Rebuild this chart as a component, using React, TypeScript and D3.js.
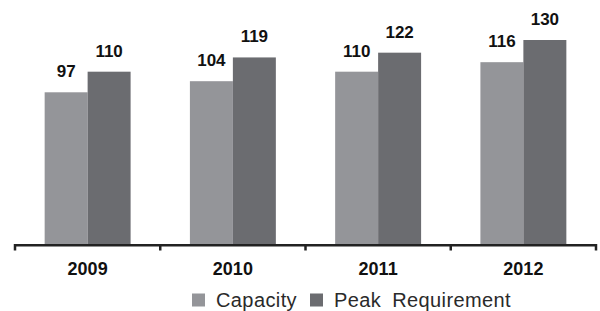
import React, { useRef, useEffect } from 'react';
import * as d3 from 'd3';

const years = ['2009', '2010', '2011', '2012'];
const seriesNames = ['Capacity', 'Peak Requirement'];
const capacity = [97, 104, 110, 116];
const peakRequirement = [110, 119, 122, 130];
const colors = ['#949599', '#6b6c70'];

const width = 600;
const height = 311;

const App: React.FC = () => {
  const svgRef = useRef<SVGSVGElement>(null);

  useEffect(() => {
    if (!svgRef.current) return;
    const svg = d3.select(svgRef.current);
    svg.selectAll('*').remove();

    const font = '"Liberation Sans", Arial, Helvetica, sans-serif';
    const baseY = 246;

    const x0 = d3.scaleBand<string>().domain(years).range([15, 596]).padding(0);
    const x1 = d3.scaleBand<string>()
      .domain(seriesNames)
      .range([0, x0.bandwidth()])
      .paddingInner(0)
      .paddingOuter(0.69);
    const y = d3.scaleLinear().domain([0, 130]).range([baseY, 40]);

    const values = [capacity, peakRequirement];

    // bars
    years.forEach((yr, i) => {
      const g = svg.append('g').attr('transform', `translate(${x0(yr)},0)`);
      seriesNames.forEach((s, j) => {
        const v = values[j][i];
        g.append('rect')
          .attr('x', x1(s)!)
          .attr('y', y(v))
          .attr('width', x1.bandwidth())
          .attr('height', baseY - y(v))
          .attr('fill', colors[j]);
        g.append('text')
          .attr('x', x1(s)! + x1.bandwidth() / 2)
          .attr('y', y(v) - 15)
          .attr('text-anchor', 'middle')
          .attr('font-family', font)
          .attr('font-weight', 'bold')
          .attr('font-size', '17px')
          .attr('fill', '#111')
          .text(v);
      });
    });

    // axis line + ticks at band edges
    const [r0, r1] = x0.range();
    svg.append('line')
      .attr('x1', r0).attr('x2', r1)
      .attr('y1', 245.3).attr('y2', 245.3)
      .attr('stroke', '#222').attr('stroke-width', 2.5);
    const edges = years.map(yr => x0(yr)!).concat([r1]);
    edges.forEach(ex => {
      svg.append('line')
        .attr('x1', ex).attr('x2', ex)
        .attr('y1', 244).attr('y2', 250.5)
        .attr('stroke', '#222').attr('stroke-width', 2.5);
    });

    // year labels
    years.forEach(yr => {
      svg.append('text')
        .attr('x', x0(yr)! + x0.bandwidth() / 2)
        .attr('y', 275)
        .attr('text-anchor', 'middle')
        .attr('font-family', font)
        .attr('font-weight', 'bold')
        .attr('font-size', '18px')
        .attr('fill', '#111')
        .text(yr);
    });

    // legend
    const legendItems = [
      { name: seriesNames[0], sx: 192, tx: 216 },
      { name: seriesNames[1], sx: 310, tx: 334 },
    ];
    legendItems.forEach((item, j) => {
      svg.append('rect')
        .attr('x', item.sx).attr('y', 293.5)
        .attr('width', 13).attr('height', 13)
        .attr('fill', colors[j]);
      svg.append('text')
        .attr('x', item.tx).attr('y', 306.5)
        .attr('font-family', font)
        .attr('font-size', '20px')
        .attr('letter-spacing', '0.4px')
        .attr('word-spacing', '5px')
        .attr('fill', '#2a2a2a')
        .text(item.name);
    });
  }, []);

  return (
    <svg
      ref={svgRef}
      width={width}
      height={height}
      style={{ position: 'absolute', left: 0, top: 0, background: '#fff' }}
    />
  );
};

export default App;
